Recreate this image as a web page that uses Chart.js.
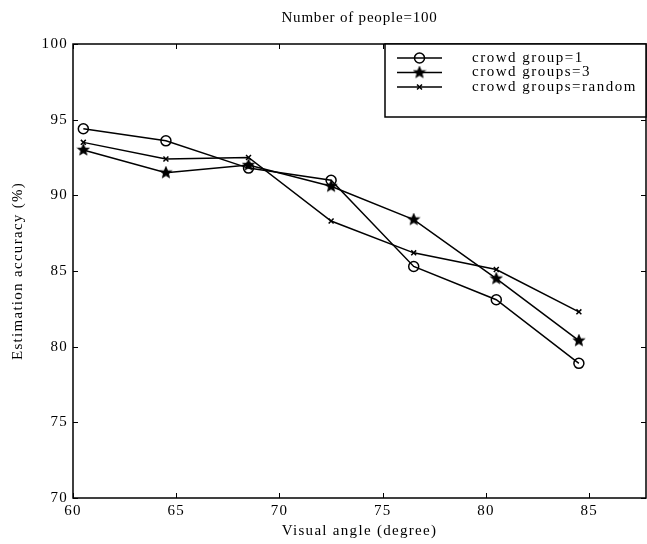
<!DOCTYPE html>
<html>
<head>
<meta charset="utf-8">
<script src="https://cdn.jsdelivr.net/npm/chart.js@4/dist/chart.umd.min.js"></script>
<style>
  body { margin: 0; background: #fff; }
</style>
</head>
<body>
<canvas id="grafica" width="647" height="544"></canvas>
<script>
// datos
const angles = [60.5, 64.5, 68.5, 72.5, 76.5, 80.5, 84.5];
const group1 = [94.4, 93.6, 91.8, 91.0, 85.3, 83.1, 78.9];
const groups3 = [93.0, 91.5, 92.0, 90.6, 88.4, 84.5, 80.4];
const groupsRandom = [93.5, 92.4, 92.5, 88.3, 86.2, 85.1, 82.3];
const xTicks = [60, 65, 70, 75, 80, 85];
const yTicks = [70, 75, 80, 85, 90, 95, 100];
const titulo = 'Number of people=100';

const serif = "'Liberation Serif', 'Times New Roman', serif";

// estrella rellena tipo pentagram
function makeStar(r) {
    const c = document.createElement('canvas');
    const s = Math.ceil(r * 2 + 3);
    c.width = s; c.height = s;
    const g = c.getContext('2d');
    g.beginPath();
    for (let i = 0; i < 10; i++) {
        const rad = i % 2 === 0 ? r : r * 0.45;
        const a = -Math.PI / 2 + i * Math.PI / 5;
        const px = s / 2 + rad * Math.cos(a), py = s / 2 + rad * Math.sin(a);
        if (i === 0) g.moveTo(px, py); else g.lineTo(px, py);
    }
    g.closePath();
    g.fillStyle = '#000';
    g.fill();
    g.lineWidth = 1.2;
    g.strokeStyle = '#000';
    g.stroke();
    return c;
}
const star = makeStar(5.5);

function serie(label, values, style, radius) {
    return {
        label: label,
        data: angles.map((x, i) => ({x: x, y: values[i]})),
        borderColor: '#000',
        borderWidth: 1.5,
        pointStyle: style,
        pointRadius: radius,
        pointBackgroundColor: 'rgba(0,0,0,0)',
        pointBorderColor: '#000',
        pointBorderWidth: 1.5,
        tension: 0,
        fill: false,
    };
}

const datos1 = serie('crowd group=1', group1, 'circle', 5);
const datos3 = serie('crowd groups=3', groups3, star, 5.5);
const datosR = serie('crowd groups=random', groupsRandom, 'crossRot', 3.5);

// marco, ticks hacia adentro, titulo y leyenda (estilo matlab)
const marco = {
    id: 'marco',
    beforeDraw(chart) {
        chart.ctx.letterSpacing = '1.3px';
    },
    afterDatasetsDraw(chart) {
        const {ctx, chartArea: a, scales} = chart;
        ctx.save();
        ctx.strokeStyle = '#000';
        ctx.lineWidth = 1.5;
        ctx.strokeRect(a.left, a.top, a.right - a.left, a.bottom - a.top);
        ctx.lineWidth = 1;
        ctx.beginPath();
        xTicks.forEach(v => {
            const px = Math.round(scales.x.getPixelForValue(v)) + 0.5;
            ctx.moveTo(px, a.bottom); ctx.lineTo(px, a.bottom - 5);
            ctx.moveTo(px, a.top); ctx.lineTo(px, a.top + 5);
        });
        yTicks.forEach(v => {
            const py = Math.round(scales.y.getPixelForValue(v)) + 0.5;
            ctx.moveTo(a.left, py); ctx.lineTo(a.left + 5, py);
            ctx.moveTo(a.right, py); ctx.lineTo(a.right - 5, py);
        });
        ctx.stroke();

        // titulo centrado sobre el area del grafico
        ctx.fillStyle = '#000';
        ctx.font = '15px ' + serif;
        ctx.letterSpacing = '0.8px';
        ctx.textAlign = 'center';
        ctx.textBaseline = 'middle';
        ctx.fillText(titulo, (a.left + a.right) / 2, 18);

        // leyenda
        const bx = a.left + 312, by = a.top, bw = a.right - bx, bh = 73;
        ctx.fillStyle = '#fff';
        ctx.fillRect(bx, by, bw, bh);
        ctx.lineWidth = 1.5;
        ctx.strokeRect(bx, by, bw, bh);
        ctx.font = '15px ' + serif;
        ctx.letterSpacing = '1.5px';
        ctx.textAlign = 'left';
        chart.data.datasets.forEach((ds, i) => {
            const y = by + 14 + i * 14.5;
            const x0 = bx + 12, x1 = bx + 57, xm = (x0 + x1) / 2;
            ctx.lineWidth = 1.5;
            ctx.beginPath();
            ctx.moveTo(x0, y); ctx.lineTo(x1, y);
            ctx.stroke();
            ctx.lineWidth = ds.pointBorderWidth;
            ctx.fillStyle = 'rgba(0,0,0,0)';
            Chart.helpers.drawPoint(ctx, {pointStyle: ds.pointStyle, radius: ds.pointRadius, rotation: 0, borderWidth: ds.pointBorderWidth}, xm, y);
            ctx.fillStyle = '#000';
            ctx.fillText(ds.label, bx + 87, y);
        });
        ctx.restore();
    }
};

const grafica = document.querySelector('#grafica');
new Chart(grafica, {
    type: 'line',
    data: { datasets: [datos1, datos3, datosR] },
    plugins: [marco],
    options: {
        responsive: false,
        animation: false,
        layout: { autoPadding: false, padding: { top: 44, right: 1 } },
        plugins: {
            legend: { display: false },
            tooltip: { enabled: false },
            title: { display: false },
        },
        scales: {
            x: {
                type: 'linear',
                min: 60,
                max: 87.75,
                afterFit: s => { s.height = 46; s.paddingLeft = 0; s.paddingRight = 0; },
                grid: { display: false, drawTicks: false },
                border: { display: false },
                ticks: {
                    stepSize: 5,
                    includeBounds: false,
                    padding: 4,
                    color: '#000',
                    font: { family: serif, size: 15 },
                },
                title: {
                    display: true,
                    text: 'Visual angle (degree)',
                    color: '#000',
                    font: { family: serif, size: 15 },
                    padding: { top: 0, bottom: 4 },
                },
            },
            y: {
                min: 70,
                max: 100,
                afterFit: s => { s.width = 73; s.paddingTop = 0; s.paddingBottom = 0; },
                grid: { display: false, drawTicks: false },
                border: { display: false },
                ticks: {
                    stepSize: 5,
                    padding: 5,
                    color: '#000',
                    font: { family: serif, size: 15 },
                },
                title: {
                    display: true,
                    text: 'Estimation accuracy (%)',
                    color: '#000',
                    font: { family: serif, size: 15 },
                    padding: { top: 9, bottom: 0 },
                },
            },
        },
    },
});
</script>
</body>
</html>
